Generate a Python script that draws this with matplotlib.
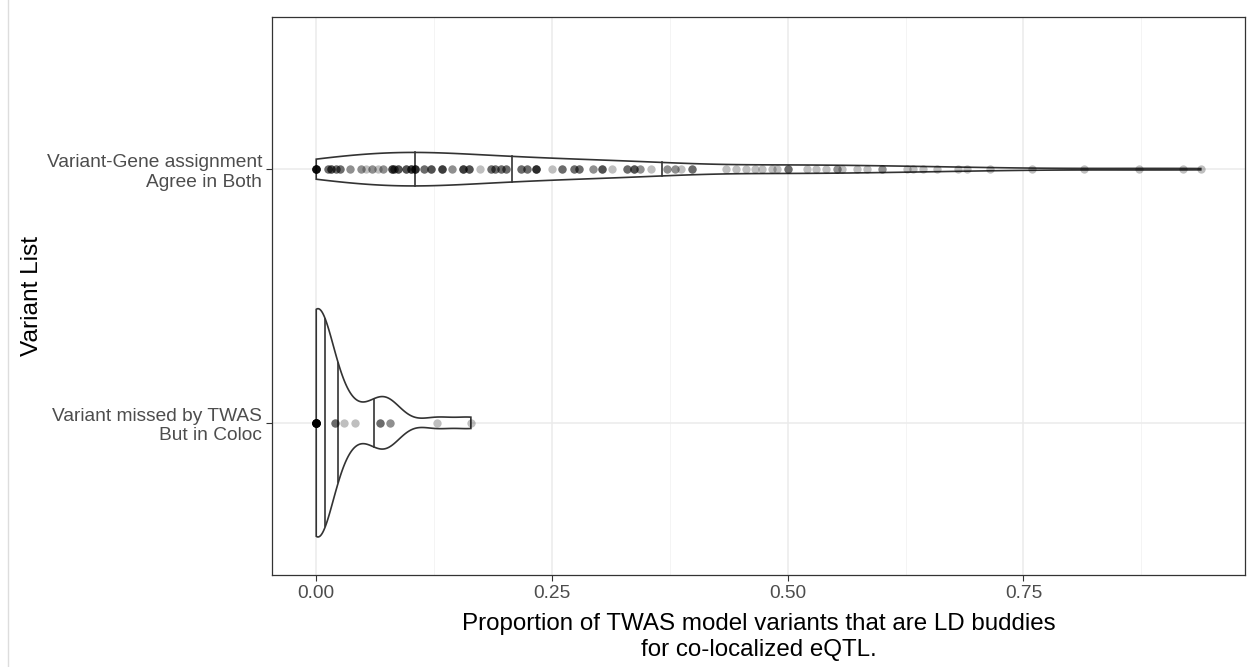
import numpy as np
import matplotlib.pyplot as plt
from matplotlib.lines import Line2D

plt.rcParams['font.family'] = ['Liberation Sans', 'DejaVu Sans']

# categorias (de abajo hacia arriba)
categories = ["Variant missed by TWAS\nBut in Coloc",
              "Variant-Gene assignment\nAgree in Both"]

# valores (valor, repeticiones)
agree_values = [0.000, 0.012, 0.016, 0.021, 0.025, 0.036, 0.047, 0.053, 0.059, 0.065,
                0.071, 0.080, 0.083, 0.087, 0.095, 0.100, 0.105, 0.114, 0.122, 0.133,
                0.144, 0.156, 0.162, 0.174, 0.185, 0.190, 0.196, 0.201, 0.217, 0.223,
                0.233, 0.250, 0.261, 0.273, 0.279, 0.293, 0.303, 0.314, 0.330, 0.337,
                0.343, 0.355, 0.372, 0.380, 0.387, 0.399, 0.435, 0.445, 0.456, 0.465,
                0.473, 0.483, 0.489, 0.500, 0.520, 0.530, 0.541, 0.552, 0.558, 0.573,
                0.584, 0.600, 0.627, 0.633, 0.643, 0.658, 0.681, 0.690, 0.714, 0.759,
                0.814, 0.872, 0.919, 0.938]
agree_counts = [10, 3, 4, 3, 3, 2, 2, 1, 2, 1,
                2, 5, 3, 4, 4, 5, 6, 3, 4, 5,
                2, 5, 4, 1, 3, 3, 3, 3, 3, 3,
                6, 1, 3, 3, 3, 2, 4, 1, 3, 4,
                2, 1, 2, 2, 1, 3, 1, 1, 1, 1,
                1, 1, 1, 3, 1, 1, 1, 2, 1, 1,
                1, 2, 1, 1, 1, 1, 1, 1, 1, 1,
                1, 1, 1, 1]

missed_values = [0.000, 0.020, 0.029, 0.041, 0.068, 0.078, 0.128, 0.164]
missed_counts = [20, 3, 1, 1, 3, 2, 1, 1]

groups = [np.repeat(missed_values, missed_counts),
          np.repeat(agree_values, agree_counts)]
bandwidths = [0.016, None]  # None -> nrd0


def nrd0(x):
    sd = np.std(x, ddof=1)
    iqr = np.subtract(*np.percentile(x, [75, 25]))
    return 0.9 * min(sd, iqr / 1.34) * len(x) ** -0.2


def kde(x, bw, grid):
    z = (grid[:, None] - x[None, :]) / bw
    return np.exp(-0.5 * z ** 2).sum(1) / (len(x) * bw * np.sqrt(2 * np.pi))


grids, dens = [], []
for x, bw in zip(groups, bandwidths):
    if bw is None:
        bw = nrd0(x)
    g = np.linspace(x.min(), x.max(), 512)
    grids.append(g)
    dens.append(kde(x, bw, g))
dmax = max(d.max() for d in dens)

fig = plt.figure(figsize=(12.52, 6.67), dpi=100)
ax = fig.add_axes([272 / 1252, 1 - 575 / 667, (1245 - 272) / 1252, (575 - 17) / 667])

xmax = max(x.max() for x in groups)
ax.set_xlim(-0.05 * xmax, 1.05 * xmax)
ax.set_ylim(0.4, 2.6)

ax.set_xticks([0, 0.25, 0.5, 0.75])
ax.set_xticklabels(['0.00', '0.25', '0.50', '0.75'])
ax.set_xticks([0.125, 0.375, 0.625, 0.875], minor=True)
ax.set_yticks([1, 2])
ax.set_yticklabels(categories, ha='right')
ax.grid(True, which='major', color='#ebebeb', lw=1.1)
ax.grid(True, which='minor', axis='x', color='#f2f2f2', lw=0.6)
ax.set_axisbelow(True)
ax.tick_params(which='major', length=4, width=0.8, color='#333333',
               labelsize=13.8, labelcolor='#4d4d4d', pad=3)
ax.tick_params(which='minor', length=0)
for s in ax.spines.values():
    s.set_color('#333333')
    s.set_linewidth(0.9)

for i, (x, g, d) in enumerate(zip(groups, grids, dens)):
    pos = i + 1
    hw = 0.45 * d / dmax
    ax.fill(np.r_[g, g[::-1]], np.r_[pos + hw, (pos - hw)[::-1]],
            facecolor='white', edgecolor='#333333', lw=1.2, zorder=2)
    ecdf = np.cumsum(d) / d.sum()
    for q in np.interp([0.25, 0.5, 0.75], ecdf, g):
        h = 0.45 * np.interp(q, g, d) / dmax
        ax.plot([q, q], [pos - h, pos + h], color='#333333', lw=1.2, zorder=3)
    ax.scatter(x, np.full(len(x), pos), s=36, color='black', alpha=0.25,
               linewidths=0, zorder=4)

ax.set_xlabel('Proportion of TWAS model variants that are LD buddies\nfor co-localized eQTL.',
              fontsize=17.4, labelpad=8, linespacing=1.25)
ax.set_ylabel('Variant List', fontsize=17.6, labelpad=3)

fig.add_artist(Line2D([8 / 1252, 8 / 1252], [0, 1], color='#dddddd', lw=1))

fig.savefig('out.png', dpi=100, facecolor='white')
